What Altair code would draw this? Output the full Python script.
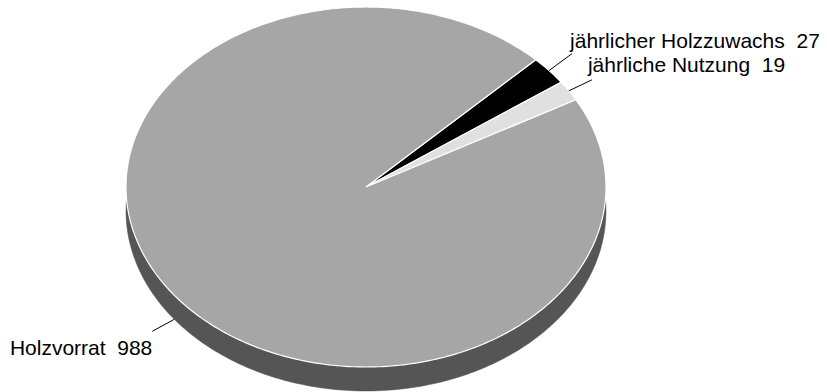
import math
import altair as alt
import pandas as pd

# ---- data ----
categories = ["jährlicher Holzzuwachs", "jährliche Nutzung", "Holzvorrat"]
values = [27, 19, 988]
label_texts = ["jährlicher Holzzuwachs\u00a0\u00a027", "jährliche Nutzung\u00a0\u00a019", "Holzvorrat\u00a0\u00a0988"]

# ---- layout / style ----
W, H = 827, 392
CX, CY, RX, RY, DEPTH = 366, 187, 240, 180, 24
START = 45.0  # degrees, math convention, slices run clockwise
N = 360
fills = {"jährlicher Holzzuwachs": "#000000", "jährliche Nutzung": "#e0e0e0", "Holzvorrat": "#a6a6a6"}
SIDE = "#555555"
FONT = "Liberation Sans"
FS = 21
# leader offsets (dx, dy) and text offsets from leader end, alignment
leader_off = {"jährlicher Holzzuwachs": (23, -17), "jährliche Nutzung": (23, -11), "Holzvorrat": (-22, 12)}
text_off = {"jährlicher Holzzuwachs": (-2, -6, "left"), "jährliche Nutzung": (-4, -8, "left"), "Holzvorrat": (0, 24, "right")}

total = float(sum(values))
fr = []
c = 0.0
for v in values:
    fr.append((c / total, (c + v) / total))
    c += v

# polygon rows for slices
rows = []
for cat, (f0, f1) in zip(categories, fr):
    steps = max(2, int(math.ceil((f1 - f0) * N)))
    rows.append(dict(slice=cat, k=0, t=0.0, r=0.0, f0=f0, f1=f1, dy=0))
    for i in range(steps + 1):
        rows.append(dict(slice=cat, k=i + 1, t=i / steps, r=1.0, f0=f0, f1=f1, dy=0))
    rows.append(dict(slice=cat, k=steps + 2, t=1.0, r=0.0, f0=f0, f1=f1, dy=0))
df = pd.DataFrame(rows)

# side (extruded body) rows: full ellipse shifted down
side = pd.DataFrame([dict(slice="side", k=i, t=i / N, r=1.0, f0=0.0, f1=1.0, dy=DEPTH) for i in range(N + 1)])

def geom(ch):
    return ch.transform_calculate(
        ang=f"({START} - 360*(datum.f0 + (datum.f1 - datum.f0)*datum.t)) * PI / 180"
    ).transform_calculate(
        px=f"{CX} + datum.r*{RX}*cos(datum.ang)",
        py=f"{CY} - datum.r*{RY}*sin(datum.ang) + datum.dy",
    )

xs = alt.Scale(domain=[0, W], range=[0, W], nice=False, zero=False)
ys = alt.Scale(domain=[0, H], range=[0, H], nice=False, zero=False)

def enc(ch):
    return ch.encode(
        x=alt.X("px:Q", scale=xs, axis=None),
        y=alt.Y("py:Q", scale=ys, axis=None),
        order=alt.Order("k:Q"),
    )

layers = []
layers.append(enc(geom(alt.Chart(side).mark_line(fill=SIDE, stroke=SIDE, strokeWidth=0.5))))
for cat in categories:
    layers.append(
        enc(geom(alt.Chart(df).transform_filter(alt.datum.slice == cat)
                 .mark_line(fill=fills[cat], stroke="white", strokeWidth=1.2, strokeJoin="round")))
    )

# leaders and labels
lrows = []
for cat, lab, (f0, f1) in zip(categories, label_texts, fr):
    m = (f0 + f1) / 2
    a = math.radians(START - 360 * m)
    sx = CX + RX * math.cos(a)
    sy = CY - RY * math.sin(a) + (DEPTH if math.sin(a) < 0 else 0)
    ldx, ldy = leader_off[cat]
    ex, ey = sx + ldx, sy + ldy
    tdx, tdy, al = text_off[cat]
    lrows.append(dict(slice=cat, label=lab, sx=sx, sy=sy, ex=ex, ey=ey, tx=ex + tdx, ty=ey + tdy, align=al))
ldf = pd.DataFrame(lrows)

rules = alt.Chart(ldf).mark_rule(color="black", strokeWidth=1).encode(
    x=alt.X("sx:Q", scale=xs, axis=None), y=alt.Y("sy:Q", scale=ys, axis=None),
    x2="ex:Q", y2="ey:Q",
)
layers.append(rules)
for al in ["left", "right"]:
    layers.append(
        alt.Chart(ldf).transform_filter(alt.datum.align == al).mark_text(
            align=al, baseline="alphabetic", font=FONT, fontSize=FS, color="black"
        ).encode(
            x=alt.X("tx:Q", scale=xs, axis=None), y=alt.Y("ty:Q", scale=ys, axis=None), text="label:N"
        )
    )

chart = alt.layer(*layers).properties(
    width=W, height=H, autosize=alt.AutoSizeParams(type="none"), padding=0, background="white"
).configure_view(stroke=None)

chart.save("out.html", embed_options={"renderer": "svg", "actions": False})
